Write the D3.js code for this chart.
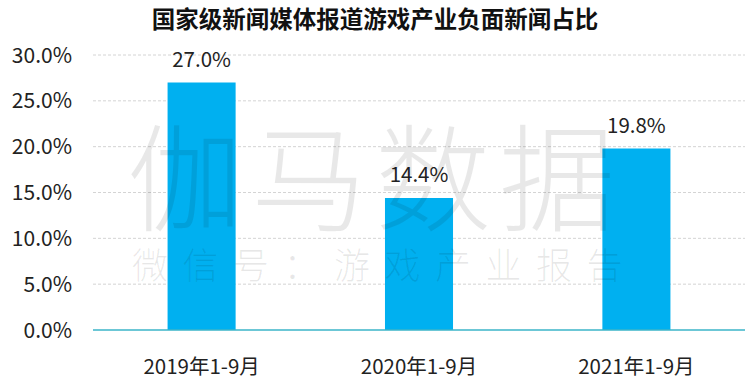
<!DOCTYPE html>
<html><head><meta charset="utf-8">
<script src="https://cdn.jsdelivr.net/npm/d3@7/dist/d3.min.js"></script>
<style>body{margin:0;background:#fff}svg{display:block}</style>
</head><body>
<svg id="c" width="750" height="392"></svg>
<script>
const categories = ["2019年1-9月", "2020年1-9月", "2021年1-9月"];
const values = [27.0, 14.4, 19.8];
const yTicks = [0, 5, 10, 15, 20, 25, 30];
const title = "国家级新闻媒体报道游戏产业负面新闻占比";
const watermark1 = "伽马数据";
const watermark2 = ["微","信","号","：","游","戏","产","业","报","告"];

const svg = d3.select("#c");
const font = "'Noto Sans CJK SC', 'Noto Sans', sans-serif";
const mLeft = 93, mRight = 745, mTop = 55, mBottom = 330;

const x = d3.scaleBand().domain(categories).range([mLeft, mRight]).paddingInner(0.687).paddingOuter(0.343);
const y = d3.scaleLinear().domain([0, 30]).range([mBottom, mTop]);

// gridlines
svg.append("g").selectAll("line").data(yTicks.filter(d => d > 0)).join("line")
  .attr("x1", mLeft).attr("x2", mRight)
  .attr("y1", d => y(d)).attr("y2", d => y(d))
  .attr("stroke", "#d4d4d4").attr("stroke-width", 1).attr("stroke-dasharray", "3,2");

// y tick labels
svg.append("g").selectAll("text").data(yTicks).join("text")
  .attr("x", 72).attr("y", d => y(d)).attr("dy", "0.36em")
  .attr("text-anchor", "end").attr("font-family", font).attr("font-size", 21)
  .attr("fill", "#222").text(d => d.toFixed(1) + "%");

// bars
svg.append("g").selectAll("rect").data(values).join("rect")
  .attr("x", (d, i) => x(categories[i])).attr("width", x.bandwidth())
  .attr("y", d => y(d)).attr("height", d => y(0) - y(d))
  .attr("fill", "#00B0F0");

// baseline
svg.append("line").attr("x1", mLeft).attr("x2", mRight).attr("y1", y(0)).attr("y2", y(0))
  .attr("stroke", "#3BB5C9").attr("stroke-width", 1.3);

// value labels
svg.append("g").selectAll("text").data(values).join("text")
  .attr("x", (d, i) => x(categories[i]) + x.bandwidth() / 2).attr("y", d => y(d) - 16)
  .attr("text-anchor", "middle").attr("font-family", font).attr("font-size", 20.5)
  .attr("fill", "#222").text(d => d.toFixed(1) + "%");

// x labels
svg.append("g").selectAll("text").data(categories).join("text")
  .attr("x", d => x(d) + x.bandwidth() / 2).attr("y", 374)
  .attr("text-anchor", "middle").attr("font-family", font).attr("font-size", 20.5)
  .attr("fill", "#222").text(d => d);

// title
svg.append("text").attr("x", 375).attr("y", 28).attr("text-anchor", "middle")
  .attr("font-family", font).attr("font-size", 23.5).attr("font-weight", "bold")
  .attr("fill", "#111").text(title);

// watermark
svg.append("text").attr("x", 375).attr("y", 222).attr("text-anchor", "middle")
  .attr("font-family", font).attr("font-size", 116).attr("font-weight", 300).attr("letter-spacing", 8)
  .attr("fill", "#000").attr("fill-opacity", 0.09).text(watermark1);
svg.append("g").selectAll("text").data(watermark2).join("text")
  .attr("x", (d, i) => 150 + i * 50.5).attr("y", 279).attr("text-anchor", "middle")
  .attr("font-family", font).attr("font-size", 36).attr("font-weight", 300)
  .attr("fill", "#000").attr("fill-opacity", 0.09).text(d => d);
</script>
</body></html>
